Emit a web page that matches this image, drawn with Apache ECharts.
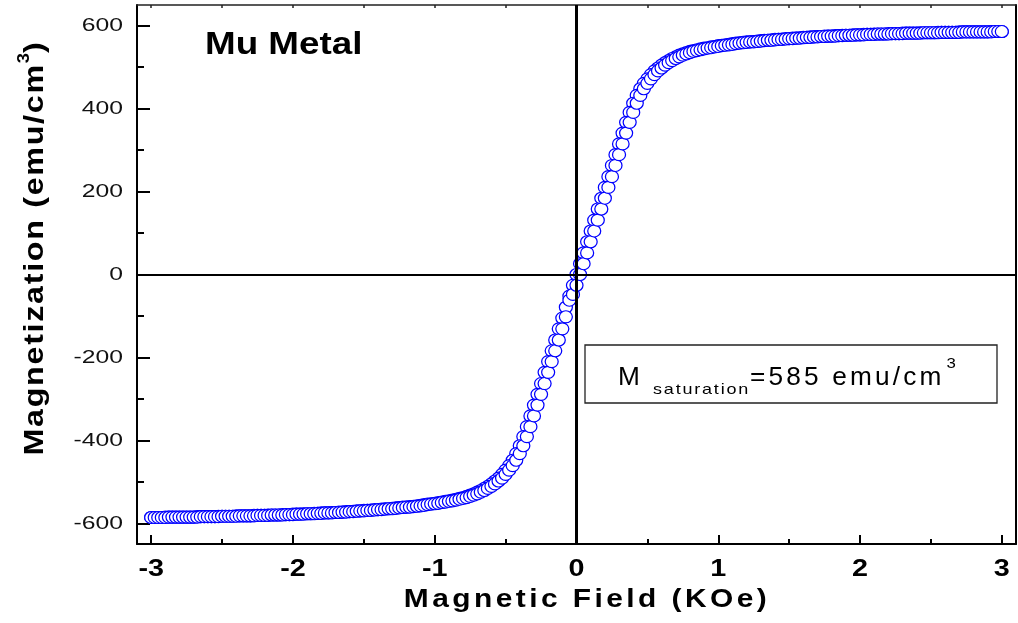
<!DOCTYPE html>
<html>
<head>
<meta charset="utf-8">
<title>Mu Metal magnetization loop</title>
<script src="https://cdn.jsdelivr.net/npm/echarts@6/dist/echarts.min.js"></script>
<style>
  html, body { margin: 0; padding: 0; background: #fff; }
  #chart { width: 1018px; height: 623px; }
</style>
</head>
<body>
<div id="chart"></div>
<script>
// Applied field (KOe), shared by both branches of the loop
const fieldKOe = [
  -3, -2.975, -2.95, -2.925, -2.9, -2.875, -2.85, -2.825, -2.8, -2.775,
  -2.75, -2.725, -2.7, -2.675, -2.65, -2.625, -2.6, -2.575, -2.55, -2.525,
  -2.5, -2.475, -2.45, -2.425, -2.4, -2.375, -2.35, -2.325, -2.3, -2.275,
  -2.25, -2.225, -2.2, -2.175, -2.15, -2.125, -2.1, -2.075, -2.05, -2.025,
  -2, -1.975, -1.95, -1.925, -1.9, -1.875, -1.85, -1.825, -1.8, -1.775,
  -1.75, -1.725, -1.7, -1.675, -1.65, -1.625, -1.6, -1.575, -1.55, -1.525,
  -1.5, -1.475, -1.45, -1.425, -1.4, -1.375, -1.35, -1.325, -1.3, -1.275,
  -1.25, -1.225, -1.2, -1.175, -1.15, -1.125, -1.1, -1.075, -1.05, -1.025,
  -1, -0.975, -0.95, -0.925, -0.9, -0.875, -0.85, -0.825, -0.8, -0.775,
  -0.75, -0.725, -0.7, -0.675, -0.65, -0.625, -0.6, -0.575, -0.55, -0.525,
  -0.5, -0.475, -0.45, -0.425, -0.4, -0.375, -0.35, -0.325, -0.3, -0.275,
  -0.25, -0.225, -0.2, -0.175, -0.15, -0.125, -0.1, -0.075, -0.05, -0.025,
  0, 0.025, 0.05, 0.075, 0.1, 0.125, 0.15, 0.175, 0.2, 0.225,
  0.25, 0.275, 0.3, 0.325, 0.35, 0.375, 0.4, 0.425, 0.45, 0.475,
  0.5, 0.525, 0.55, 0.575, 0.6, 0.625, 0.65, 0.675, 0.7, 0.725,
  0.75, 0.775, 0.8, 0.825, 0.85, 0.875, 0.9, 0.925, 0.95, 0.975,
  1, 1.025, 1.05, 1.075, 1.1, 1.125, 1.15, 1.175, 1.2, 1.225,
  1.25, 1.275, 1.3, 1.325, 1.35, 1.375, 1.4, 1.425, 1.45, 1.475,
  1.5, 1.525, 1.55, 1.575, 1.6, 1.625, 1.65, 1.675, 1.7, 1.725,
  1.75, 1.775, 1.8, 1.825, 1.85, 1.875, 1.9, 1.925, 1.95, 1.975,
  2, 2.025, 2.05, 2.075, 2.1, 2.125, 2.15, 2.175, 2.2, 2.225,
  2.25, 2.275, 2.3, 2.325, 2.35, 2.375, 2.4, 2.425, 2.45, 2.475,
  2.5, 2.525, 2.55, 2.575, 2.6, 2.625, 2.65, 2.675, 2.7, 2.725,
  2.75, 2.775, 2.8, 2.825, 2.85, 2.875, 2.9, 2.925, 2.95, 2.975,
  3
];

// Magnetization (emu/cm3) on the branch swept down from +3 KOe
const mDescending = [
  -586, -586, -586, -586, -585, -585, -585, -585, -585, -585,
  -585, -585, -585, -584, -584, -584, -584, -584, -584, -583,
  -583, -583, -583, -583, -582, -582, -582, -582, -582, -581,
  -581, -581, -581, -580, -580, -580, -580, -579, -579, -579,
  -578, -578, -578, -577, -577, -577, -576, -576, -575, -575,
  -575, -574, -574, -573, -573, -572, -572, -571, -570, -570,
  -569, -569, -568, -567, -567, -566, -565, -565, -564, -563,
  -562, -561, -561, -560, -559, -558, -557, -555, -554, -553,
  -552, -550, -549, -547, -546, -544, -542, -540, -538, -535,
  -532, -529, -525, -521, -516, -511, -505, -498, -491, -482,
  -472, -461, -448, -432, -413, -391, -367, -341, -315, -289,
  -263, -236, -210, -184, -158, -131, -105, -79, -52, -26,
  0, 26, 52, 79, 105, 131, 158, 184, 210, 236,
  263, 289, 315, 341, 367, 391, 413, 432, 448, 461,
  472, 482, 491, 498, 505, 511, 516, 521, 525, 529,
  532, 535, 538, 540, 542, 544, 546, 547, 549, 550,
  552, 553, 554, 555, 557, 558, 559, 560, 561, 561,
  562, 563, 564, 565, 565, 566, 567, 567, 568, 569,
  569, 570, 570, 571, 572, 572, 573, 573, 574, 574,
  575, 575, 575, 576, 576, 577, 577, 577, 578, 578,
  578, 579, 579, 579, 580, 580, 580, 580, 581, 581,
  581, 581, 582, 582, 582, 582, 582, 583, 583, 583,
  583, 583, 584, 584, 584, 584, 584, 584, 585, 585,
  585, 585, 585, 585, 585, 585, 585, 586, 586, 586,
  586
];

// Magnetization (emu/cm3) on the branch swept back up from -3 KOe
const mAscending = [
  -586, -586, -586, -586, -586, -585, -585, -585, -585, -585,
  -585, -585, -585, -585, -584, -584, -584, -584, -584, -584,
  -583, -583, -583, -583, -583, -582, -582, -582, -582, -582,
  -581, -581, -581, -581, -580, -580, -580, -580, -579, -579,
  -579, -578, -578, -578, -577, -577, -577, -576, -576, -575,
  -575, -575, -574, -574, -573, -573, -572, -572, -571, -570,
  -570, -569, -569, -568, -567, -567, -566, -565, -565, -564,
  -563, -562, -561, -561, -560, -559, -558, -557, -555, -554,
  -553, -552, -550, -549, -547, -546, -544, -542, -540, -538,
  -535, -532, -529, -525, -521, -516, -511, -505, -498, -491,
  -482, -472, -461, -448, -432, -413, -391, -367, -341, -315,
  -289, -263, -236, -210, -184, -158, -131, -102, -62, -48,
  -26, 0, 26, 52, 79, 105, 131, 158, 184, 210,
  236, 263, 289, 315, 341, 367, 391, 413, 432, 448,
  461, 472, 482, 491, 498, 505, 511, 516, 521, 525,
  529, 532, 535, 538, 540, 542, 544, 546, 547, 549,
  550, 552, 553, 554, 555, 557, 558, 559, 560, 561,
  561, 562, 563, 564, 565, 565, 566, 567, 567, 568,
  569, 569, 570, 570, 571, 572, 572, 573, 573, 574,
  574, 575, 575, 575, 576, 576, 577, 577, 577, 578,
  578, 578, 579, 579, 579, 580, 580, 580, 580, 581,
  581, 581, 581, 582, 582, 582, 582, 582, 583, 583,
  583, 583, 583, 584, 584, 584, 584, 584, 584, 585,
  585, 585, 585, 585, 585, 585, 585, 585, 586, 586,
  586
];

const xMajorTicks = [-3, -2, -1, 0, 1, 2, 3];
const xMinorTicks = [-2.5, -1.5, -0.5, 0.5, 1.5, 2.5];
const yMajorTicks = [-600, -400, -200, 0, 200, 400, 600];
const yMinorTicks = [-500, -300, -100, 100, 300, 500];

const sampleName = 'Mu Metal';
const xTitle = 'Magnetic Field (KOe)';
const yTitle = 'Magnetization (emu/cm';
const saturationEmu = 585;

const FONT = 'Liberation Sans';

// Wide, tracked lettering: [horizontal stretch, letter spacing px], keyed by font size
const TEXT_TRACKING = {
  14: [1.2, 0],     // note superscript
  15: [1.2, 1.5],   // note subscript
  16: [1.15, 0],    // axis-title superscript
  19: [1.3, 0],     // magnetization tick labels
  23: [1.25, 0],    // field tick labels
  26: [1.15, 3],    // field axis title
  25: [1.05, 3],    // saturation note
  28: [1.15, 1.5],  // magnetization axis title
  32: [1.15, 0]     // sample name
};

function trackingFor(font) {
  const m = /(\d+(?:\.\d+)?)px/.exec(font || '');
  return m ? TEXT_TRACKING[Math.round(+m[1])] : null;
}

(function installTextTracking() {
  const proto = CanvasRenderingContext2D.prototype;
  const wrap = function (base) {
    return function (text, x, y, maxWidth) {
      const t = trackingFor(this.font);
      if (!t) {
        return maxWidth === undefined ? base.call(this, text, x, y) : base.call(this, text, x, y, maxWidth);
      }
      this.save();
      if ('letterSpacing' in this) this.letterSpacing = t[1] + 'px';
      this.translate(x, y);
      this.scale(t[0], 1);
      base.call(this, text, 0, 0);
      this.restore();
    };
  };
  proto.fillText = wrap(proto.fillText);
  proto.strokeText = wrap(proto.strokeText);

  const measureCtx = document.createElement('canvas').getContext('2d');
  if (echarts.setPlatformAPI) {
    echarts.setPlatformAPI({
      measureText: function (text, font) {
        measureCtx.font = font || '12px sans-serif';
        const t = trackingFor(measureCtx.font);
        if ('letterSpacing' in measureCtx) measureCtx.letterSpacing = t ? t[1] + 'px' : '0px';
        const w = measureCtx.measureText(text).width;
        return { width: t ? w * t[0] : w };
      }
    });
  }
})();

const X_MIN = -3.1, X_MAX = 3.1;
const Y_MIN = -650, Y_MAX = 650;

const descendingData = fieldKOe.map((h, i) => [h, mDescending[i]]).reverse();
const ascendingData = fieldKOe.map((h, i) => [h, mAscending[i]]);

function loopBranch(name, data) {
  return {
    name: name,
    type: 'line',
    xAxisIndex: 0,
    yAxisIndex: 0,
    data: data,
    z: 3,
    symbol: 'circle',
    symbolSize: [13, 12],
    showSymbol: true,
    showAllSymbol: true,
    itemStyle: { color: '#ffffff', borderColor: '#0000ff', borderWidth: 1.2 },
    lineStyle: { color: '#0000ff', width: 1 },
    emphasis: { disabled: true },
    silent: true,
    animation: false
  };
}

const chart = echarts.init(document.getElementById('chart'), null, { renderer: 'canvas' });

chart.setOption({
  animation: false,
  backgroundColor: '#ffffff',
  textStyle: { fontFamily: FONT },
  grid: { left: 137, top: 5, width: 879, height: 539, containLabel: false, outerBoundsMode: 'none' },
  xAxis: [
    {
      type: 'value', min: X_MIN, max: X_MAX, position: 'bottom',
      axisLine: { show: true, onZero: false, lineStyle: { color: '#000', width: 2 } },
      axisTick: { show: true, inside: true, length: 9, customValues: xMajorTicks, lineStyle: { color: '#000', width: 2 } },
      axisLabel: { show: true, customValues: xMajorTicks, margin: 11, fontSize: 23, fontWeight: 'bold', fontFamily: FONT, color: '#000' },
      splitLine: { show: false }
    },
    {
      type: 'value', min: X_MIN, max: X_MAX, position: 'bottom',
      axisLine: { show: false, onZero: false },
      axisTick: { show: true, inside: true, length: 5, customValues: xMinorTicks, lineStyle: { color: '#000', width: 2 } },
      axisLabel: { show: false },
      splitLine: { show: false }
    },
    {
      type: 'value', min: X_MIN, max: X_MAX, position: 'top',
      axisLine: { show: true, onZero: false, lineStyle: { color: '#222', width: 1.5 } },
      axisTick: { show: true, inside: true, length: 3, customValues: xMajorTicks.concat(xMinorTicks), lineStyle: { color: '#222', width: 1.5 } },
      axisLabel: { show: false },
      splitLine: { show: false }
    }
  ],
  yAxis: [
    {
      type: 'value', min: Y_MIN, max: Y_MAX, position: 'left',
      axisLine: { show: true, onZero: false, lineStyle: { color: '#000', width: 2 } },
      axisTick: { show: true, inside: true, length: 13, customValues: yMajorTicks, lineStyle: { color: '#000', width: 2 } },
      axisLabel: { show: true, customValues: yMajorTicks, margin: 14, fontSize: 19, fontFamily: FONT, color: '#111' },
      splitLine: { show: false }
    },
    {
      type: 'value', min: Y_MIN, max: Y_MAX, position: 'left',
      axisLine: { show: false, onZero: false },
      axisTick: { show: true, inside: true, length: 7, customValues: yMinorTicks, lineStyle: { color: '#000', width: 2 } },
      axisLabel: { show: false },
      splitLine: { show: false }
    },
    {
      type: 'value', min: Y_MIN, max: Y_MAX, position: 'right',
      axisLine: { show: true, onZero: false, lineStyle: { color: '#000', width: 2 } },
      axisTick: { show: false },
      axisLabel: { show: false },
      splitLine: { show: false }
    }
  ],
  series: [
    {
      name: 'zero field',
      type: 'line',
      xAxisIndex: 0,
      yAxisIndex: 0,
      data: [],
      z: 2,
      silent: true,
      markLine: {
        silent: true,
        animation: false,
        symbol: ['none', 'none'],
        label: { show: false },
        emphasis: { disabled: true },
        lineStyle: { color: '#000', width: 3, type: 'solid' },
        data: [{ xAxis: 0 }]
      }
    },
    {
      name: 'zero magnetization',
      type: 'line',
      xAxisIndex: 0,
      yAxisIndex: 0,
      data: [],
      z: 2,
      silent: true,
      markLine: {
        silent: true,
        animation: false,
        symbol: ['none', 'none'],
        label: { show: false },
        emphasis: { disabled: true },
        lineStyle: { color: '#000', width: 2.2, type: 'solid' },
        data: [{ yAxis: 0 }]
      }
    },
    loopBranch('descending', descendingData),
    loopBranch('ascending', ascendingData)
  ],
  graphic: [
    {
      type: 'text', x: 205, y: 45, silent: true,
      style: { text: sampleName, fontSize: 32, fontWeight: 'bold', fontFamily: FONT, fill: '#000', align: 'left', verticalAlign: 'middle' }
    },
    {
      type: 'text', x: 587, y: 600, silent: true,
      style: { text: xTitle, fontSize: 26, fontWeight: 'bold', fontFamily: FONT, fill: '#000', align: 'center', verticalAlign: 'middle' }
    },
    {
      type: 'text', x: 35, y: 248, rotation: Math.PI / 2, silent: true,
      style: {
        text: '{t|' + yTitle + '}{s|3}{t|)}',
        align: 'center', verticalAlign: 'middle',
        rich: {
          t: { fontSize: 28, fontWeight: 'bold', fontFamily: FONT, fill: '#000', lineHeight: 40 },
          s: { fontSize: 16, fontWeight: 'bold', fontFamily: FONT, fill: '#000', lineHeight: 14, verticalAlign: 'top' }
        }
      }
    },
    {
      type: 'rect', silent: true,
      shape: { x: 585, y: 345, width: 412, height: 58 },
      style: { fill: 'none', stroke: '#222', lineWidth: 1.3 }
    },
    {
      type: 'text', x: 618, y: 378, silent: true,
      style: {
        text: '{m|M}{sub|saturation}{m|=' + saturationEmu + ' emu/cm}{sup|3}',
        align: 'left', verticalAlign: 'middle',
        rich: {
          m: { fontSize: 25, fontFamily: FONT, fill: '#000', lineHeight: 44 },
          sub: { fontSize: 15, fontFamily: FONT, fill: '#000', lineHeight: 20, verticalAlign: 'bottom', padding: [0, 0, 0, 10] },
          sup: { fontSize: 14, fontFamily: FONT, fill: '#000', lineHeight: 18, verticalAlign: 'top', padding: [0, 0, 0, 2] }
        }
      }
    }
  ]
});
</script>
</body>
</html>
